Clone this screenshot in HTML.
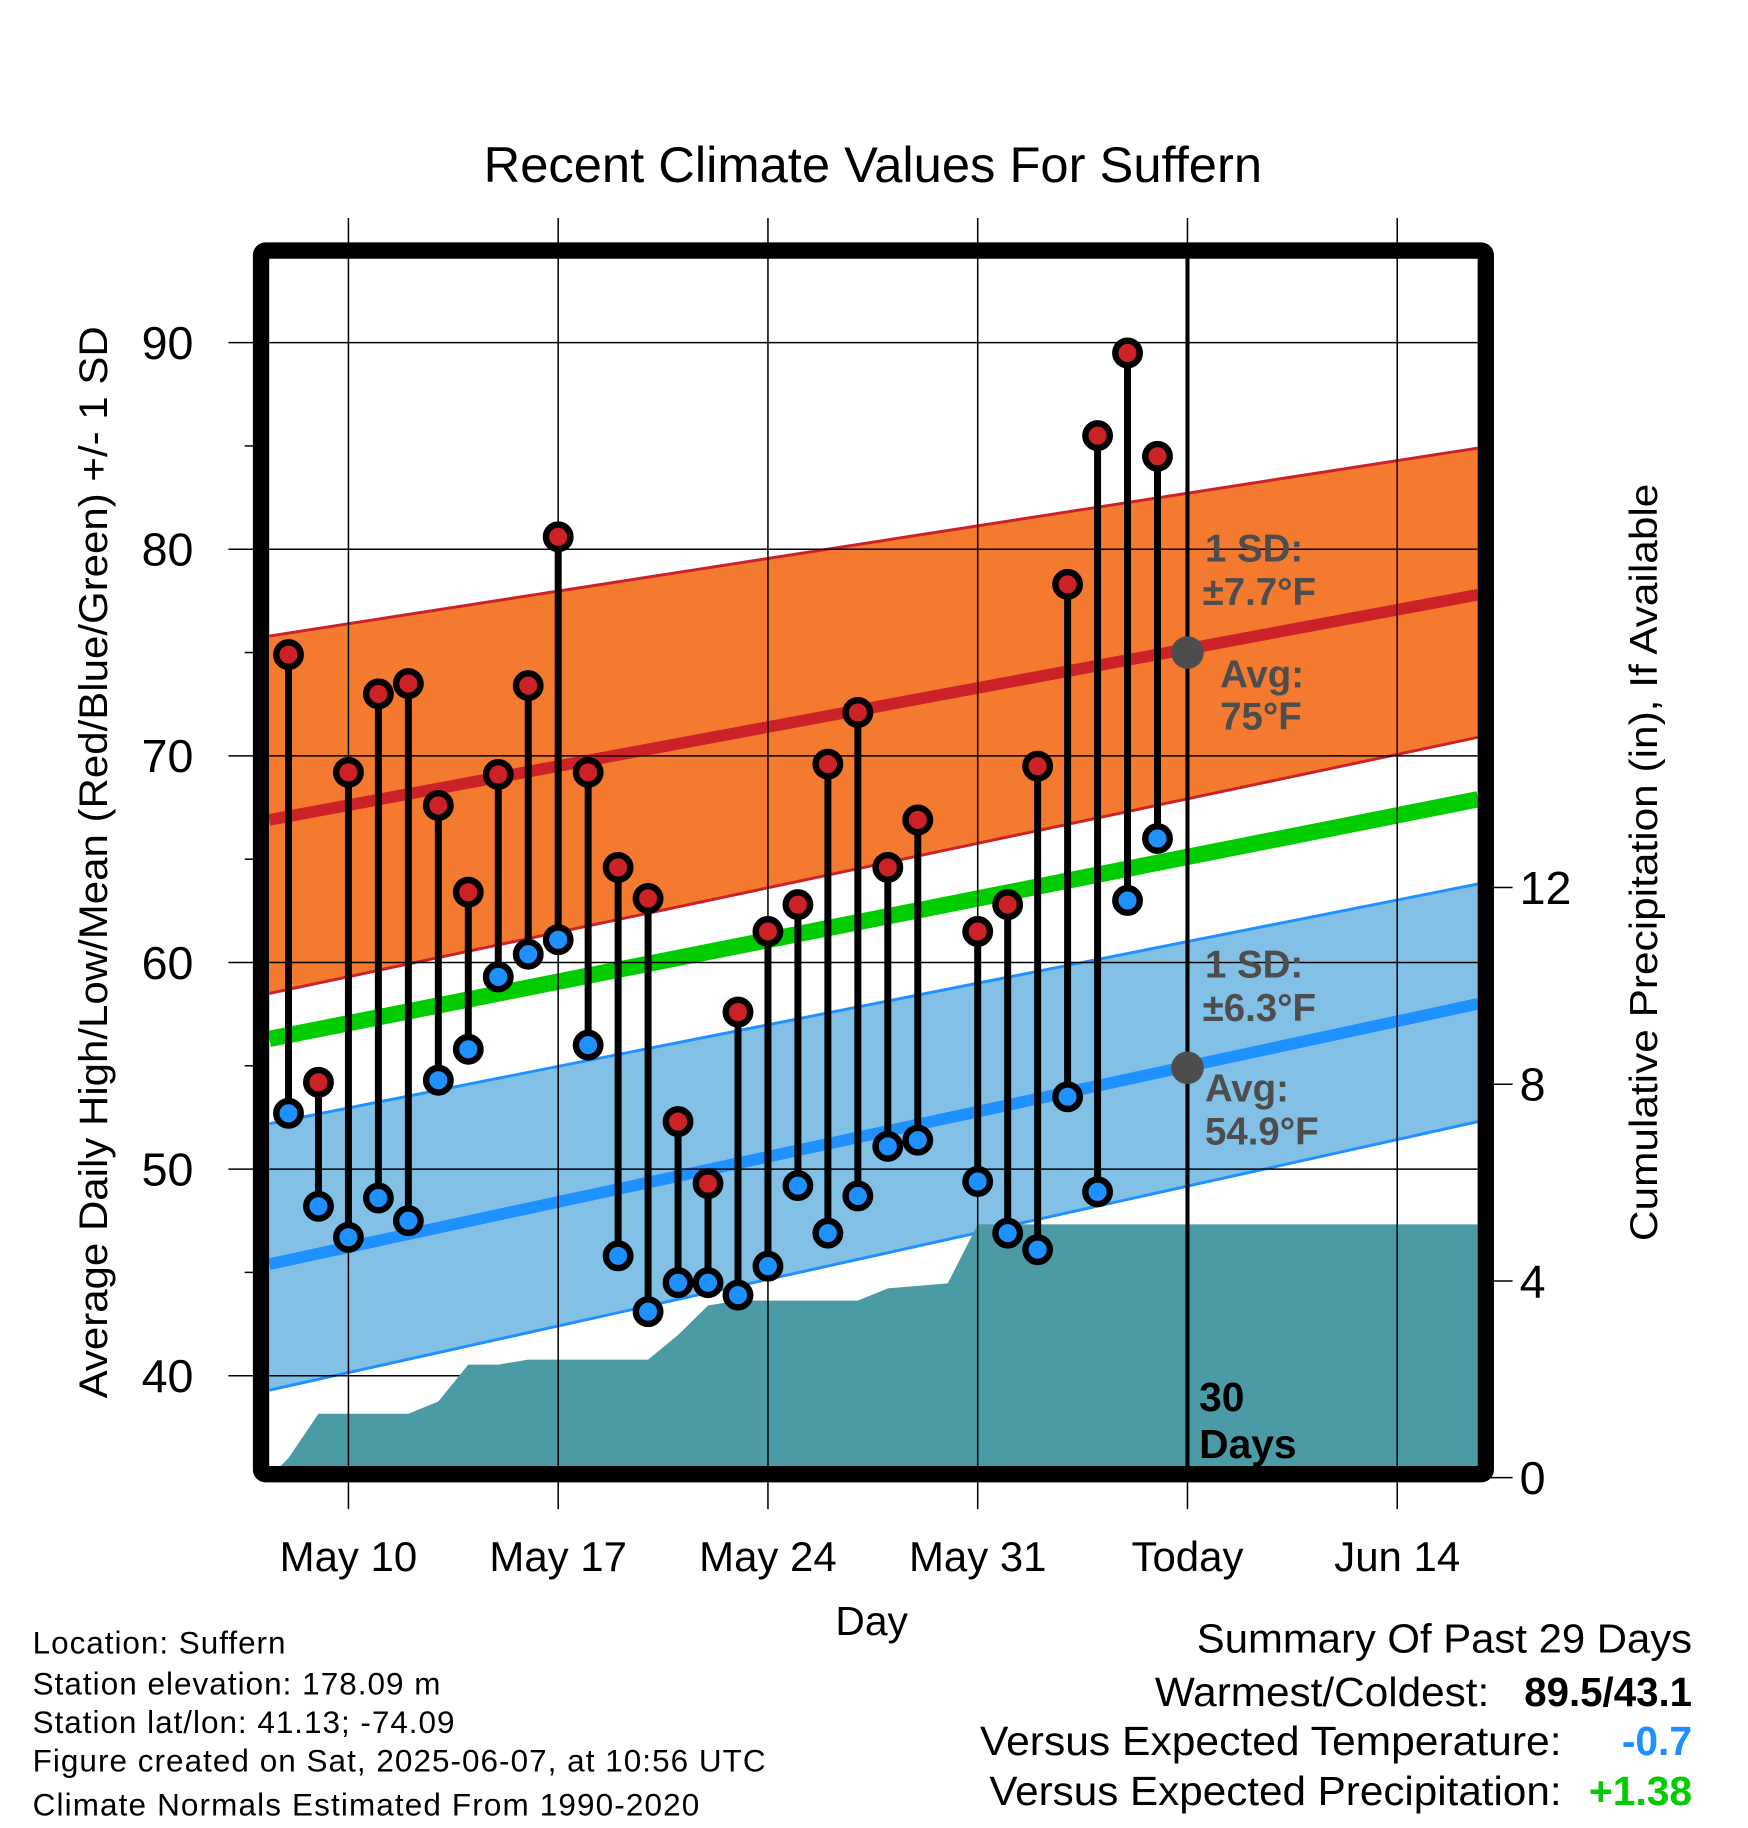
<!DOCTYPE html>
<html><head><meta charset="utf-8">
<style>
html,body{margin:0;padding:0;background:#fff;}
svg{display:block;font-family:"Liberation Sans",Arial,sans-serif;}
</style></head>
<body>
<svg id="chart" width="1748" height="1828" viewBox="0 0 1500 1568.6" xmlns="http://www.w3.org/2000/svg">
<defs><clipPath id="plotclip"><rect x="231" y="222" width="1037" height="1036"/></clipPath></defs>
<rect x="0" y="0" width="1500" height="1568.6" fill="#fff"/>
<text x="415" y="156" font-size="43" textLength="668" lengthAdjust="spacingAndGlyphs">Recent Climate Values For Suffern</text>
<g id="plot" clip-path="url(#plotclip)"></g>
<g id="over"></g>
<rect x="224" y="215" width="1051" height="1050" fill="none" stroke="#000" stroke-width="14" rx="4"/>
<g id="axes"></g>
<text transform="translate(92,740) rotate(-90)" font-size="34" text-anchor="middle" textLength="920" lengthAdjust="spacingAndGlyphs">Average Daily High/Low/Mean (Red/Blue/Green) +/- 1 SD</text>
<text transform="translate(1422,740) rotate(-90)" font-size="33" text-anchor="middle" textLength="650" lengthAdjust="spacingAndGlyphs">Cumulative Precipitation (in), If Available</text>
<text x="748" y="1403" font-size="35" text-anchor="middle">Day</text>
<g font-size="27" lengthAdjust="spacingAndGlyphs">
<text x="28" y="1419" textLength="217">Location: Suffern</text>
<text x="28" y="1454" textLength="350">Station elevation: 178.09 m</text>
<text x="28" y="1487" textLength="362">Station lat/lon: 41.13; -74.09</text>
<text x="28" y="1520" textLength="629">Figure created on Sat, 2025-06-07, at 10:56 UTC</text>
<text x="28" y="1558" textLength="572">Climate Normals Estimated From 1990-2020</text>
</g>
<g font-size="35">
<text x="1027" y="1418" textLength="425" lengthAdjust="spacingAndGlyphs">Summary Of Past 29 Days</text>
<text x="991" y="1464" textLength="287" lengthAdjust="spacingAndGlyphs">Warmest/Coldest:</text>
<text x="1308" y="1464" textLength="144" lengthAdjust="spacingAndGlyphs" font-weight="bold">89.5/43.1</text>
<text x="841" y="1506" textLength="499" lengthAdjust="spacingAndGlyphs">Versus Expected Temperature:</text>
<text x="1452" y="1506" text-anchor="end" font-weight="bold" fill="#1e90ff">-0.7</text>
<text x="849" y="1549" textLength="491" lengthAdjust="spacingAndGlyphs">Versus Expected Precipitation:</text>
<text x="1452" y="1549" text-anchor="end" font-weight="bold" fill="#00cc00">+1.38</text>
</g>
</svg>
<script>
// ---- data ----
const dayOffsets = [-2,-1,0,1,2,3,4,5,6,7,8,9,10,11,12,13,14,15,16,17,18,19,20,21,22,23,24,25,26,27,28]; // days from May 10
const highs = [74.9,54.2,69.2,73.0,73.5,67.6,63.4,69.1,73.4,80.6,69.2,64.6,63.1,52.3,49.3,57.6,61.5,62.8,69.6,72.1,64.6,66.9,null,61.5,62.8,69.5,78.3,85.5,89.5,84.5];
const lows  = [52.7,48.2,46.7,48.6,47.5,54.3,55.8,59.3,60.4,61.1,56.0,45.8,43.1,44.5,44.5,43.9,45.3,49.2,46.9,48.7,51.1,51.4,null,49.4,46.9,46.1,53.5,48.9,63.0,66.0];
const precip = [0.4,1.3,1.3,1.3,1.3,1.55,2.3,2.3,2.4,2.4,2.4,2.4,2.4,2.9,3.5,3.6,3.6,3.6,3.6,3.6,3.85,3.9,3.95,5.15,5.15,5.15,5.15,5.15,5.15,5.15];
const normalDays = [-2.64,37.7];
const normHigh = [66.9,77.8];
const normHighTop = [75.8,84.9];
const normHighBot = [58.5,70.9];
const normMean = [56.3,67.9];
const normLow = [45.4,58.0];
const normLowTop = [52.2,63.8];
const normLowBot = [39.3,52.3];
const xTickDays = [0,7,14,21,28,35];
const xTickLabels = ["May 10","May 17","May 24","May 31","Today","Jun 14"];
const yTicks = [40,50,60,70,80,90];
const yMinor = [45,55,65,75,85];
const pTicks = [0,4,8,12];
const todayDay = 28;
const todayHighAvg = 75.0, todayLowAvg = 54.9;

// ---- scales ----
const X = d => 299 + d*25.714;
const Y = t => 294 + (90 - t)*17.73;
const P = p => 1268 - p*42.2;
const NS = "http://www.w3.org/2000/svg";
function mk(tag, attrs, parent){const e=document.createElementNS(NS,tag);for(const k in attrs)e.setAttribute(k,attrs[k]);parent.appendChild(e);return e;}
const plot=document.getElementById('plot'), over=document.getElementById('over'), axes=document.getElementById('axes');

function band(top,bot,fill,name){
  const d=`M${X(normalDays[0])},${Y(top[0])} L${X(normalDays[1])},${Y(top[1])} L${X(normalDays[1])},${Y(bot[1])} L${X(normalDays[0])},${Y(bot[0])} Z`;
  const e=mk('path',{d:d,fill:fill},plot);
  
  
}
function line(arr,color,w,name){
  const e=mk('line',{x1:X(normalDays[0]),y1:Y(arr[0]),x2:X(normalDays[1]),y2:Y(arr[1]),stroke:color,'stroke-width':w},plot);
  
  
}
band(normHighTop,normHighBot,'#f47a30','high-sd-band');
line(normHighTop,'#cc2127',2.5,'high-sd-upper');
line(normHighBot,'#cc2127',2.5,'high-sd-lower');
band(normLowTop,normLowBot,'#82c0e6','low-sd-band');
line(normLowTop,'#1e90ff',2.5,'low-sd-upper');
line(normLowBot,'#1e90ff',2.5,'low-sd-lower');
line(normMean,'#00cc00',14,'mean-normal-line');
line(normHigh,'#cc2127',10,'high-normal-line');
line(normLow,'#1e90ff',10,'low-normal-line');

// gridlines
yTicks.forEach(t=>{const e=mk('line',{x1:231,x2:1268,y1:Y(t),y2:Y(t),stroke:'#000','stroke-width':1.3},plot);
  
  });
xTickDays.forEach(d=>{const e=mk('line',{x1:X(d),x2:X(d),y1:187,y2:1265,stroke:'#000','stroke-width':1.3},over);
  
  });

// precip area
let pd=`M231,${P(0)} L233,${P(0.05)}`;
precip.forEach((v,i)=>{pd+=` L${X(-2+i)},${P(v)}`;});
pd+=` L1268,${P(precip[precip.length-1])} L1268,${P(0)} Z`;
const pa=mk('path',{d:pd,fill:'#4a9ba5'},over);


over.insertBefore(pa, over.firstChild);

// today line
const tl=mk('line',{x1:X(todayDay),x2:X(todayDay),y1:222,y2:1262,stroke:'#000','stroke-width':3.5},over);


[todayHighAvg,todayLowAvg].forEach(v=>{const c=mk('circle',{cx:X(todayDay),cy:Y(v),r:14,fill:'#4d4d4d'},over);
  
  });

// stems + points
highs.forEach((h,i)=>{
  const l=lows[i]; if(h==null||l==null) return;
  const x=X(dayOffsets[i]);
  const s=mk('line',{x1:x,x2:x,y1:Y(h),y2:Y(l),stroke:'#000','stroke-width':6},over);
  
  
  const ch=mk('circle',{cx:x,cy:Y(h),r:10.5,fill:'#cc2127',stroke:'#000','stroke-width':5.5},over);
  
  
  const cl=mk('circle',{cx:x,cy:Y(l),r:10.5,fill:'#1e90ff',stroke:'#000','stroke-width':5.5},over);
  
  
});

// annotations
function txt(parent,x,y,s,attrs,name){const e=mk('text',Object.assign({x:x,y:y},attrs),parent);e.textContent=s;
  
  return e;}
const ann={'font-size':33,'font-weight':'bold',fill:'#4d4d4d'};
txt(over,1034,482,'1 SD:',ann,'high-sd-label');
txt(over,1032,519,'±7.7°F',ann,'high-sd-value');
txt(over,1047,590,'Avg:',ann,'high-avg-label');
txt(over,1047,626,'75°F',ann,'high-avg-value');
txt(over,1034,839,'1 SD:',ann,'low-sd-label');
txt(over,1032,876,'±6.3°F',ann,'low-sd-value');
txt(over,1034,945,'Avg:',ann,'low-avg-label');
txt(over,1034,982,'54.9°F',ann,'low-avg-value');
const dl={'font-size':35,'font-weight':'bold',fill:'#000'};
txt(over,1029,1211,'30',dl,'days-count');
txt(over,1029,1251,'Days',dl,'days-label');

// axes ticks
yTicks.forEach(t=>{const e=mk('line',{x1:196,x2:220,y1:Y(t),y2:Y(t),stroke:'#000','stroke-width':1.3},axes);
  
  
  txt(axes,166,Y(t)+14,String(t),{'font-size':40,'text-anchor':'end'},'y-tick-label');});
yMinor.forEach(t=>{const e=mk('line',{x1:210,x2:220,y1:Y(t),y2:Y(t),stroke:'#000','stroke-width':1.3},axes);
  
  });
pTicks.forEach(p=>{const e=mk('line',{x1:1279,x2:1298,y1:P(p),y2:P(p),stroke:'#000','stroke-width':1.3},axes);
  
  
  txt(axes,1304,P(p)+14,String(p),{'font-size':40},'y2-tick-label');});
xTickDays.forEach((d,i)=>{const e=mk('line',{x1:X(d),x2:X(d),y1:1272,y2:1295,stroke:'#000','stroke-width':1.3},axes);
  
  
  txt(axes,X(d),1348,xTickLabels[i],{'font-size':36,'text-anchor':'middle'},'x-tick-label');});
</script>
</body></html>
